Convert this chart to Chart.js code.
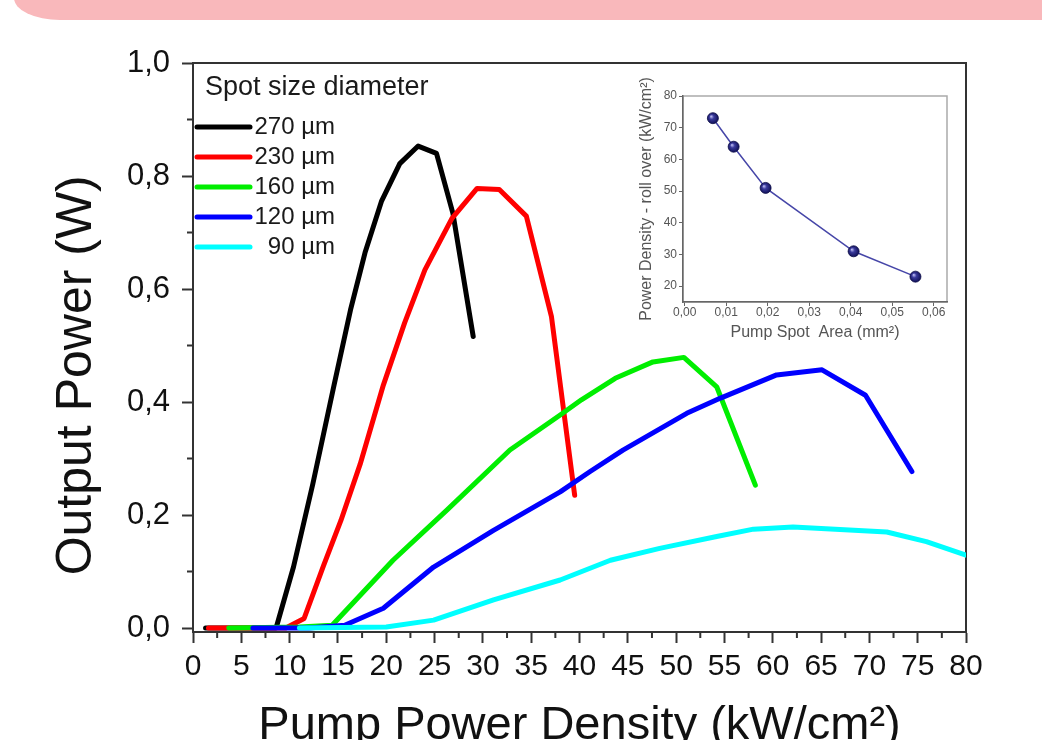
<!DOCTYPE html>
<html>
<head>
<meta charset="utf-8">
<script src="https://cdn.jsdelivr.net/npm/chart.js@4.4.1/dist/chart.umd.min.js"></script>
<style>
  html, body { margin: 0; padding: 0; background: #fff; overflow: hidden; }
  #wrap { position: relative; width: 1042px; height: 740px; overflow: hidden; }
  #banner { position: absolute; top: -20px; left: 14px; right: -30px; height: 40px;
            background: #f9b8bb; border-bottom-left-radius: 46px 22px; }
  #mainBox { position: absolute; left: 0; top: 0; width: 1042px; height: 740px; }
  #insetBox { position: absolute; left: 600px; top: 70px; width: 360px; height: 280px; }
</style>
</head>
<body>
<div id="wrap">
  <div id="banner"></div>
  <div id="mainBox"><canvas id="mainChart"></canvas></div>
  <div id="insetBox"><canvas id="insetChart"></canvas></div>
</div>
<script>
// ---- data ----
const spotLabels = ['270 µm', '230 µm', '160 µm', '120 µm', ' 90 µm'];
const spotColors = ['#000000', '#ff0000', '#00ee00', '#0000ff', '#00ffff'];

const x270 = [1.3, 8.6, 10.4, 12.4, 14.6, 16.3, 17.8, 19.5, 21.4, 23.3, 25.2, 26.9, 29.0];
const y270 = [0, 0, 0.108, 0.255, 0.43, 0.563, 0.664, 0.755, 0.822, 0.853, 0.840, 0.734, 0.516];

const x230 = [1.6, 9.6, 11.5, 13.5, 15.3, 17.3, 19.7, 21.9, 24.0, 26.8, 29.4, 31.7, 34.5, 37.1, 39.5];
const y230 = [0, 0, 0.017, 0.11, 0.19, 0.29, 0.43, 0.54, 0.634, 0.725, 0.778, 0.776, 0.729, 0.551, 0.235];

const x160 = [3.7, 11.0, 14.4, 20.7, 26.3, 32.8, 38.0, 40.2, 43.7, 47.6, 50.8, 54.2, 58.2];
const y160 = [0, 0.002, 0.005, 0.12, 0.209, 0.315, 0.377, 0.404, 0.442, 0.471, 0.479, 0.427, 0.253];

const x120 = [6.2, 12.0, 15.7, 19.7, 24.9, 31.1, 38.0, 41.1, 44.5, 51.1, 54.6, 60.4, 65.1, 69.6, 74.4];
const y120 = [0, 0, 0.005, 0.035, 0.108, 0.173, 0.241, 0.277, 0.315, 0.38, 0.407, 0.448, 0.457, 0.412, 0.277];

const x90 = [11.0, 20.0, 24.9, 31.1, 38.0, 43.2, 48.3, 54.2, 58.0, 62.1, 71.8, 75.9, 80.0];
const y90 = [0, 0.002, 0.014, 0.05, 0.085, 0.12, 0.141, 0.162, 0.175, 0.179, 0.170, 0.153, 0.129];

const xTicks = [0, 5, 10, 15, 20, 25, 30, 35, 40, 45, 50, 55, 60, 65, 70, 75, 80];
const xMinorTicks = [2.5, 7.5, 12.5, 17.5, 22.5, 27.5, 32.5, 37.5, 42.5, 47.5, 52.5, 57.5, 62.5, 67.5, 72.5, 77.5];
const yTicks = [0, 0.2, 0.4, 0.6, 0.8, 1.0];
const yMinorTicks = [0.1, 0.3, 0.5, 0.7, 0.9];

// inset: roll-over power density vs pump spot area
const insetArea = [0.0068, 0.0118, 0.0195, 0.0407, 0.0556];
const insetRollOver = [73, 64, 51, 31, 23];
const insetXTicks = [0, 0.01, 0.02, 0.03, 0.04, 0.05, 0.06];
const insetYTicks = [20, 30, 40, 50, 60, 70, 80];

const FONT = "'Liberation Sans', Arial, Helvetica, sans-serif";
Chart.defaults.font.family = FONT;
Chart.defaults.color = '#111';

function pts(xs, ys) {
    return xs.map((x, i) => ({ x: x, y: ys[i] }));
}

// box round the plot area + short minor ticks
const framePlugin = {
    id: 'frame',
    beforeDraw(chart, args, o) {
        const { ctx, chartArea: a } = chart;
        const xs = chart.scales.x, ys = chart.scales.y;
        ctx.save();
        ctx.strokeStyle = o.color;
        ctx.lineWidth = o.width;
        ctx.strokeRect(a.left, a.top, a.right - a.left, a.bottom - a.top);
        ctx.strokeStyle = o.tickColor;
        ctx.lineWidth = o.tickWidth;
        ctx.beginPath();
        (o.xMinor || []).forEach(v => {
            const p = xs.getPixelForValue(v);
            ctx.moveTo(p, a.bottom);
            ctx.lineTo(p, a.bottom + o.minorLen);
        });
        (o.yMinor || []).forEach(v => {
            const p = ys.getPixelForValue(v);
            ctx.moveTo(a.left, p);
            ctx.lineTo(a.left - o.minorLen, p);
        });
        ctx.stroke();
        ctx.restore();
    }
};

// legend drawn in the plot corner, with a title line
const spotLegend = {
    id: 'spotLegend',
    afterDatasetsDraw(chart, args, o) {
        if (!o.display) return;
        const ctx = chart.ctx;
        ctx.save();
        ctx.textBaseline = 'middle';
        ctx.fillStyle = '#1a1a1a';
        ctx.font = o.titleSize + 'px ' + FONT;
        ctx.textAlign = 'left';
        ctx.fillText(o.title, o.titleX, o.titleY);
        ctx.font = o.labelSize + 'px ' + FONT;
        ctx.textAlign = 'right';
        ctx.lineCap = 'round';
        chart.data.datasets.forEach((ds, i) => {
            const y = o.firstY + i * o.gap;
            ctx.strokeStyle = ds.borderColor;
            ctx.lineWidth = ds.borderWidth;
            ctx.beginPath();
            ctx.moveTo(o.lineX1, y);
            ctx.lineTo(o.lineX2, y);
            ctx.stroke();
            ctx.fillText(ds.label, o.textRight, y);
        });
        ctx.restore();
    }
};

const series = [[x270, y270], [x230, y230], [x160, y160], [x120, y120], [x90, y90]];

new Chart(document.getElementById('mainChart'), {
    type: 'line',
    data: {
        datasets: series.map((s, i) => ({
            label: spotLabels[i],
            data: pts(s[0], s[1]),
            borderColor: spotColors[i],
            backgroundColor: spotColors[i],
            borderWidth: 5,
            pointRadius: 0,
            tension: 0,
            borderJoinStyle: 'round',
            borderCapStyle: 'round',
            clip: 0,
            order: series.length - i   // later series on top, like the original
        }))
    },
    options: {
        responsive: true,
        maintainAspectRatio: false,
        animation: false,
        layout: { padding: { top: 63, right: 76, left: 0, bottom: 0 } },
        plugins: {
            legend: { display: false },
            tooltip: { enabled: false },
            frame: { color: '#333', width: 2, tickColor: '#333', tickWidth: 2, minorLen: 6,
                     xMinor: xMinorTicks, yMinor: yMinorTicks },
            spotLegend: { display: true, title: 'Spot size diameter', titleSize: 27, titleX: 205, titleY: 88,
                          labelSize: 24, firstY: 127, gap: 30, lineX1: 197, lineX2: 250, textRight: 335 }
        },
        scales: {
            x: {
                type: 'linear',
                min: 0,
                max: 80,
                afterBuildTicks: s => { s.ticks = xTicks.map(v => ({ value: v })); },
                afterFit: s => { s.height = 108; },
                ticks: { font: { size: 30 }, color: '#111', padding: 6, maxRotation: 0, autoSkip: false,
                         callback: v => String(v) },
                grid: { drawOnChartArea: false, tickLength: 11, tickWidth: 2, tickColor: '#333' },
                border: { color: '#333', width: 2 },
                title: { display: true, text: 'Pump Power Density (kW/cm²)', color: '#111',
                         font: { size: 47, lineHeight: 1 }, padding: { top: 0, bottom: -10 } }
            },
            y: {
                type: 'linear',
                min: -0.007,
                max: 1.0,
                afterBuildTicks: s => { s.ticks = yTicks.map(v => ({ value: v })); },
                afterFit: s => { s.width = 193; },
                ticks: { font: { size: 31 }, color: '#111', padding: 12,
                         callback: v => v.toFixed(1).replace('.', ',') },
                grid: { drawOnChartArea: false, tickLength: 11, tickWidth: 2, tickColor: '#333' },
                border: { color: '#333', width: 2 },
                // trailing spaces push the rotated title down a little, as in the original
                title: { display: true, text: 'Output Power (W)\u00a0\u00a0\u00a0\u00a0', color: '#111',
                         font: { size: 50 }, padding: { top: 47, bottom: 0 } }
            }
        }
    },
    plugins: [framePlugin, spotLegend]
});

// shaded "ball" markers for the inset
function ballFill(c) {
    const sx = c.chart.scales.x, sy = c.chart.scales.y;
    if (!c.raw || !sx || !sy) return '#1c1c78';
    const px = sx.getPixelForValue(c.raw.x), py = sy.getPixelForValue(c.raw.y);
    if (!isFinite(px) || !isFinite(py)) return '#1c1c78';
    const g = c.chart.ctx.createRadialGradient(px - 1.8, py - 1.8, 0.3, px, py, 6);
    g.addColorStop(0, '#b8b8f0');
    g.addColorStop(0.35, '#3a3a9c');
    g.addColorStop(1, '#0c0c50');
    return g;
}

new Chart(document.getElementById('insetChart'), {
    type: 'line',
    data: {
        datasets: [{
            label: 'roll over',
            data: pts(insetArea, insetRollOver),
            borderColor: '#4646a8',
            borderWidth: 1.5,
            tension: 0,
            pointRadius: 5.5,
            pointBackgroundColor: ballFill,
            pointBorderColor: '#0b0b48',
            pointBorderWidth: 0.8
        }]
    },
    options: {
        responsive: true,
        maintainAspectRatio: false,
        animation: false,
        layout: { padding: { top: 26, right: 13, left: 0, bottom: 0 } },
        plugins: {
            legend: { display: false },
            tooltip: { enabled: false },
            frame: { color: '#aaa', width: 1.5, tickColor: '#666', tickWidth: 1, minorLen: 0 },
            spotLegend: { display: false }
        },
        scales: {
            x: {
                type: 'linear',
                min: -0.0004,
                max: 0.0632,
                afterBuildTicks: s => { s.ticks = insetXTicks.map(v => ({ value: v })); },
                afterFit: s => { s.height = 48; },
                ticks: { font: { size: 12 }, color: '#555', padding: -1, maxRotation: 0, autoSkip: false,
                         callback: v => v.toFixed(2).replace('.', ',') },
                grid: { drawOnChartArea: false, tickLength: 4, tickWidth: 1, tickColor: '#666' },
                border: { color: '#666', width: 1.5 },
                title: { display: true, text: 'Pump Spot  Area (mm²)', color: '#555',
                         font: { size: 16 }, padding: { top: 0, bottom: 8 } }
            },
            y: {
                type: 'linear',
                min: 15,
                max: 80,
                afterBuildTicks: s => { s.ticks = insetYTicks.map(v => ({ value: v })); },
                afterFit: s => { s.width = 83; },
                ticks: { font: { size: 12 }, color: '#555', padding: 2, callback: v => String(v) },
                grid: { drawOnChartArea: false, tickLength: 4, tickWidth: 1, tickColor: '#666' },
                border: { color: '#666', width: 1.5 },
                title: { display: true, text: 'Power Density - roll over (kW/cm²)', color: '#555',
                         font: { size: 16 }, padding: { top: 37, bottom: 0 } }
            }
        }
    },
    plugins: [framePlugin]
});
</script>
</body>
</html>
